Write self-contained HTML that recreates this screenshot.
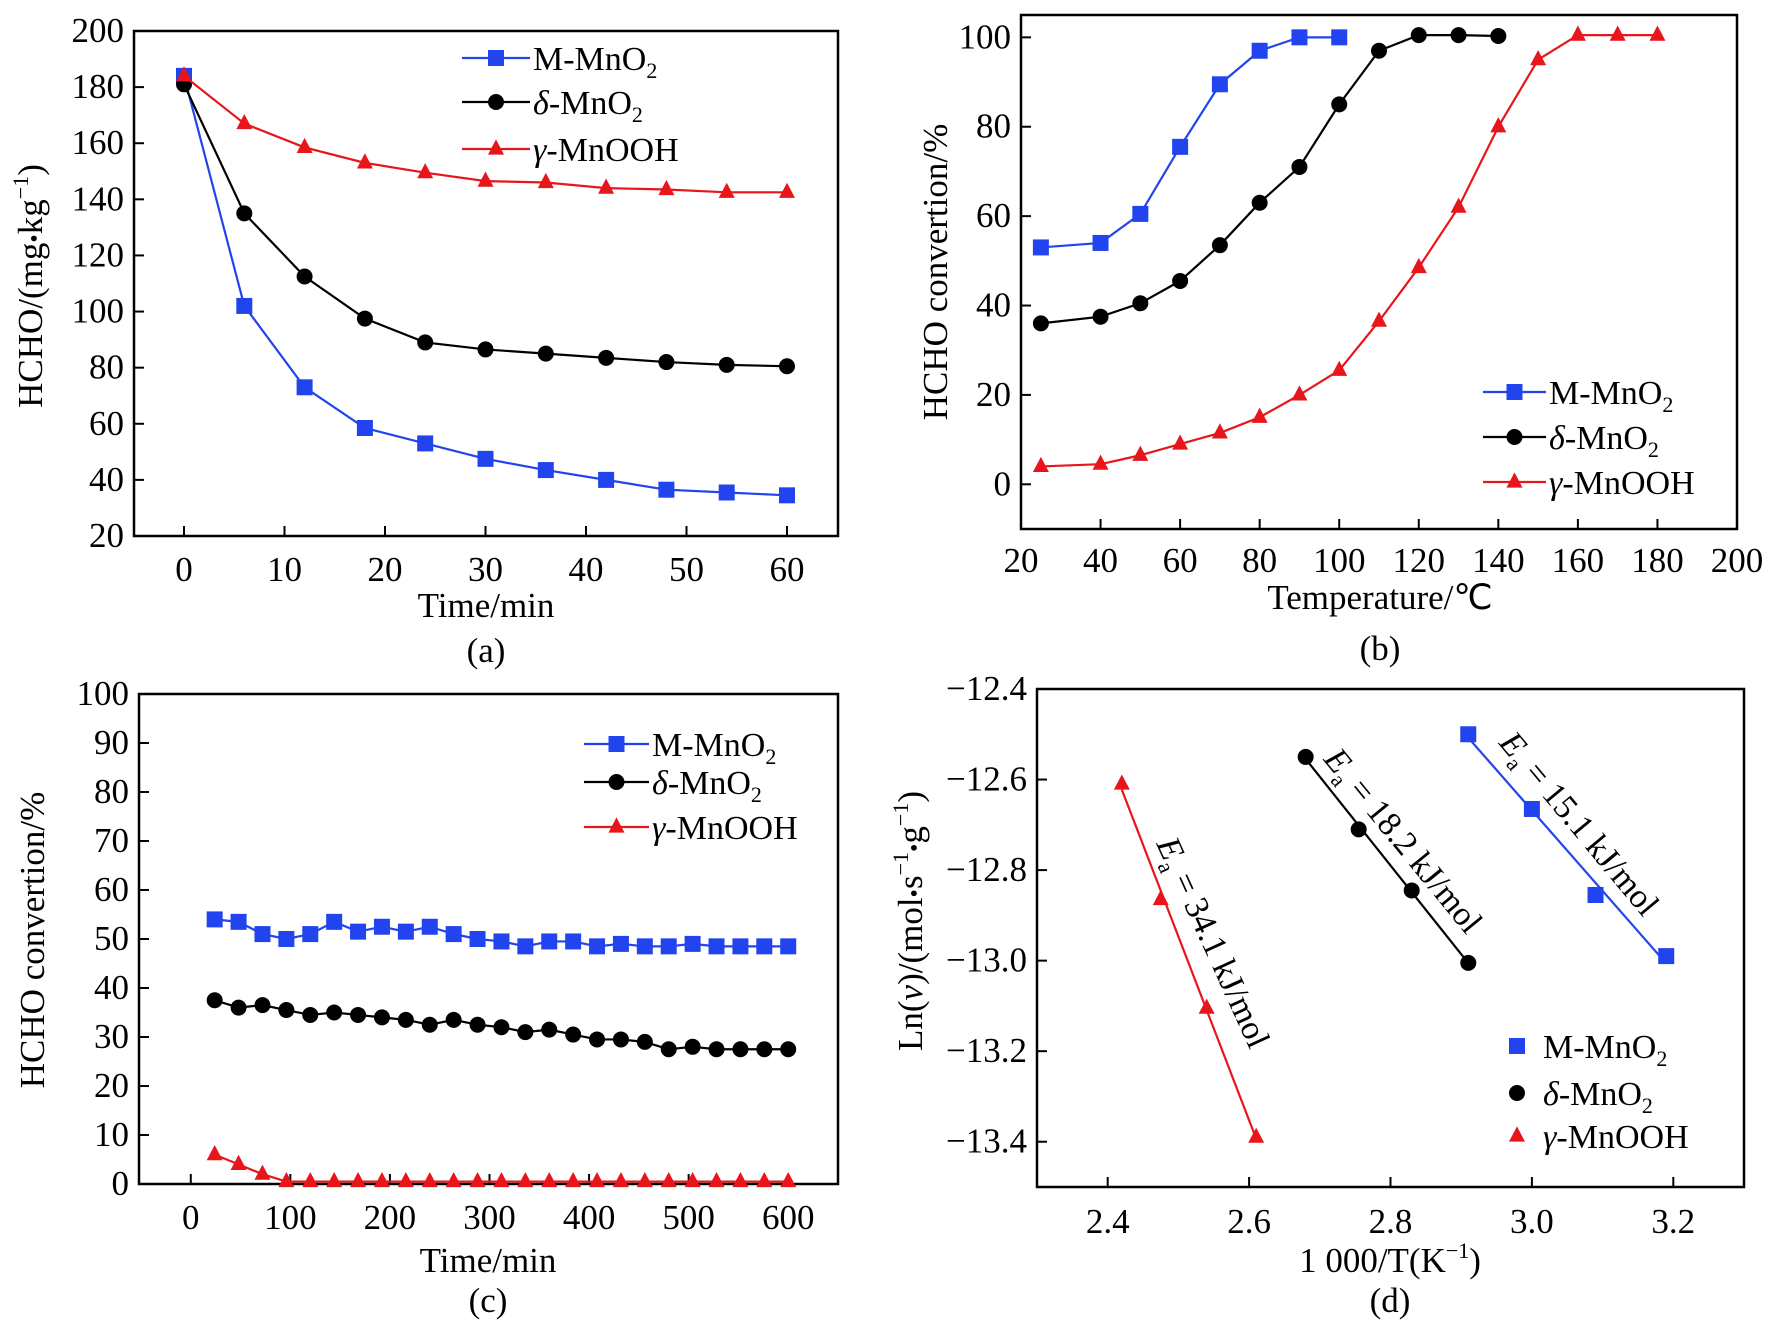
<!DOCTYPE html>
<html><head><meta charset="utf-8"><style>
html,body{margin:0;padding:0;background:#fff;}
svg{display:block;font-family:"Liberation Serif",serif;}
</style></head><body>
<svg id="fig" width="1770" height="1331" viewBox="0 0 1770 1331" xmlns="http://www.w3.org/2000/svg"></svg>
<script>
// Panel (a)
const aTime = [0,6,12,18,24,30,36,42,48,54,60];
const aM = [184,102,73,58.5,53,47.5,43.5,40,36.5,35.5,34.5];
const aD = [181,135,112.5,97.5,89,86.5,85,83.5,82,81,80.5];
const aG = [184,167,158.5,153,149.5,146.5,146,144,143.5,142.5,142.5];
const aXTicks = [0,10,20,30,40,50,60];
const aYTicks = [20,40,60,80,100,120,140,160,180,200];
// Panel (b)
const bTM = [25,40,50,60,70,80,90,100];
const bM = [53,54,60.5,75.5,89.5,97,100,100];
const bTD = [25,40,50,60,70,80,90,100,110,120,130,140];
const bD = [36,37.5,40.5,45.5,53.5,63,71,85,97,100.5,100.5,100.3];
const bTG = [25,40,50,60,70,80,90,100,110,120,130,140,150,160,170,180];
const bG = [4,4.5,6.5,9,11.5,15,20,25.5,36.5,48.5,62,80,95,100.5,100.5,100.5];
const bXTicks = [20,40,60,80,100,120,140,160,180,200];
const bYTicks = [0,20,40,60,80,100];
// Panel (c)
const cTime = [24,48,72,96,120,144,168,192,216,240,264,288,312,336,360,384,408,432,456,480,504,528,552,576,600];
const cM = [54,53.5,51,50,51,53.5,51.5,52.5,51.5,52.5,51,50,49.5,48.5,49.5,49.5,48.5,49,48.5,48.5,49,48.5,48.5,48.5,48.5];
const cD = [37.5,36,36.5,35.5,34.5,35,34.5,34,33.5,32.5,33.5,32.5,32,31,31.5,30.5,29.5,29.5,29,27.5,28,27.5,27.5,27.5,27.5];
const cG = [6,4,2,0.5,0.5,0.5,0.5,0.5,0.5,0.5,0.5,0.5,0.5,0.5,0.5,0.5,0.5,0.5,0.5,0.5,0.5,0.5,0.5,0.5,0.5];
const cXTicks = [0,100,200,300,400,500,600];
const cYTicks = [0,10,20,30,40,50,60,70,80,90,100];
// Panel (d)
const dMx = [2.91,3.00,3.09,3.19];
const dMy = [-12.50,-12.665,-12.855,-12.99];
const dDx = [2.68,2.755,2.83,2.91];
const dDy = [-12.55,-12.71,-12.845,-13.005];
const dGx = [2.42,2.475,2.54,2.61];
const dGy = [-12.61,-12.865,-13.105,-13.39];
const dXTicks = [2.4,2.6,2.8,3.0,3.2];
const dYTicks = [-13.4,-13.2,-13.0,-12.8,-12.6,-12.4];

const NS="http://www.w3.org/2000/svg";
const svg=document.getElementById('fig');
const BLUE="#2244ee", BLACK="#000", RED="#e8151b";
function el(tag,attrs,parent){const e=document.createElementNS(NS,tag);for(const k in attrs)e.setAttribute(k,attrs[k]);(parent||svg).appendChild(e);return e;}

function makePanel(name,box,xr,yr){
  const g=el('g',{});
  
  
  const sx=v=>box.l+(v-xr[0])/(xr[1]-xr[0])*(box.r-box.l);
  const sy=v=>box.b-(v-yr[0])/(yr[1]-yr[0])*(box.b-box.t);
  const frame=el('rect',{x:box.l,y:box.t,width:box.r-box.l,height:box.b-box.t,fill:'none',stroke:'#000','stroke-width':2.5},g);
  
  
  return {g,sx,sy,box};
}
function ticks(p,xt,yt,xfmt,yfmt,xLabY,fs){
  xt.forEach(v=>{
    const x=p.sx(v);
    el('line',{x1:x,x2:x,y1:p.box.b,y2:p.box.b-10,stroke:'#000','stroke-width':2},p.g);
    const t=el('text',{x:x,y:xLabY,'font-size':fs,'text-anchor':'middle'},p.g);
    t.textContent=xfmt(v);
    
    
  });
  yt.forEach(v=>{
    const y=p.sy(v);
    el('line',{x1:p.box.l,x2:p.box.l+10,y1:y,y2:y,stroke:'#000','stroke-width':2},p.g);
    const t=el('text',{x:p.box.l-10,y:y+11,'font-size':fs,'text-anchor':'end'},p.g);
    t.textContent=yfmt(v);
    
    
  });
}
function marker(p,type,x,y,color,s){
  let m;
  if(type==='sq') m=el('rect',{x:x-s,y:y-s,width:2*s,height:2*s,fill:color},p.g);
  else if(type==='ci') m=el('circle',{cx:x,cy:y,r:s,fill:color},p.g);
  else m=el('polygon',{points:`${x},${y-s*1.2} ${x-s},${y+s*0.7} ${x+s},${y+s*0.7}`,fill:color},p.g);
  return m;
}
function series(p,xs,ys,color,type,name,line){
  const sg=el('g',{},p.g);
  
  
  if(line!==false){
    const pts=xs.map((x,i)=>p.sx(x)+','+p.sy(ys[i])).join(' ');
    el('polyline',{points:pts,fill:'none',stroke:color,'stroke-width':2.2},sg);
  }
  xs.forEach((x,i)=>{
    const m=marker({g:sg},type,p.sx(x),p.sy(ys[i]),color,8);
    
    
  });
  return sg;
}
function legendRow(p,x1,x2,tx,y,color,type,label,line){
  const lg=el('g',{},p.g);
  
  
  if(line!==false) el('line',{x1:x1,x2:x2,y1:y,y2:y,stroke:color,'stroke-width':2.2},lg);
  marker({g:lg},type,(x1+x2)/2,y,color,8);
  const t=el('text',{x:tx,y:y+12,'font-size':34},lg);
  t.innerHTML=label;
  return lg;
}
const LM='M-MnO<tspan font-size="22" dy="8">2</tspan>';
const LD='<tspan font-style="italic">δ</tspan>-MnO<tspan font-size="22" dy="8">2</tspan>';
const LG='<tspan font-style="italic">γ</tspan>-MnOOH';
function txt(p,x,y,s,fs,name,extra){
  const t=el('text',Object.assign({x:x,y:y,'font-size':fs,'text-anchor':'middle'},extra||{}),p.g);
  t.innerHTML=s;
  
  
  return t;
}

// ---- (a)
let p=makePanel('panel-a',{l:134,r:838,t:31,b:536},[-(184-134)*60/(787-184),60+(838-787)*60/(787-184)],[20,200]);
ticks(p,aXTicks,aYTicks,v=>v,v=>v,581,35);
series(p,aTime,aM,BLUE,'sq','series-m-mno2');
series(p,aTime,aD,BLACK,'ci','series-delta-mno2');
series(p,aTime,aG,RED,'tr','series-gamma-mnooh');
legendRow(p,462,530,533,58,BLUE,'sq',LM);
legendRow(p,462,530,533,102,BLACK,'ci',LD);
legendRow(p,462,530,533,149,RED,'tr',LG);
txt(p,486,617,'Time/min',35,'x-axis-title');
txt(p,486,662,'(a)',35,'panel-label');
txt(p,0,0,'HCHO/(mg<tspan font-size="24">•</tspan>kg<tspan font-size="22" dy="-14">−1</tspan><tspan dy="14">)</tspan>',35,'y-axis-title',{transform:'translate(42,286) rotate(-90)'});

// ---- (b)
p=makePanel('panel-b',{l:1021,r:1737,t:15,b:529},[20,200],[-10,105]);
ticks(p,bXTicks,bYTicks,v=>v,v=>v,572,35);
series(p,bTM,bM,BLUE,'sq','series-m-mno2');
series(p,bTD,bD,BLACK,'ci','series-delta-mno2');
series(p,bTG,bG,RED,'tr','series-gamma-mnooh');
legendRow(p,1483,1546,1549,392,BLUE,'sq',LM);
legendRow(p,1483,1546,1549,437,BLACK,'ci',LD);
legendRow(p,1483,1546,1549,482,RED,'tr',LG);
txt(p,1380,609,'Temperature/℃',35,'x-axis-title');
txt(p,1380,660,'(b)',35,'panel-label');
txt(p,0,0,'HCHO convertion/%',35,'y-axis-title',{transform:'translate(947,272) rotate(-90)'});

// ---- (c)
p=makePanel('panel-c',{l:139,r:838,t:694,b:1184},[-52,650],[0,100]);
ticks(p,cXTicks,cYTicks,v=>v,v=>v,1229,35);
series(p,cTime,cM,BLUE,'sq','series-m-mno2');
series(p,cTime,cD,BLACK,'ci','series-delta-mno2');
series(p,cTime,cG,RED,'tr','series-gamma-mnooh');
legendRow(p,584,649,652,744,BLUE,'sq',LM);
legendRow(p,584,649,652,782,BLACK,'ci',LD);
legendRow(p,584,649,652,827,RED,'tr',LG);
txt(p,488,1272,'Time/min',35,'x-axis-title');
txt(p,488,1312,'(c)',35,'panel-label');
txt(p,0,0,'HCHO convertion/%',35,'y-axis-title',{transform:'translate(44,940) rotate(-90)'});

// ---- (d)
p=makePanel('panel-d',{l:1037,r:1744,t:689,b:1187},[2.3,3.3],[-13.5,-12.4]);
ticks(p,dXTicks,dYTicks,v=>v.toFixed(1),v=>'−'+Math.abs(v).toFixed(1),1233,35);
function fitLine(p,xs,ys,color,name){
  const n=xs.length,mx=xs.reduce((a,b)=>a+b)/n,my=ys.reduce((a,b)=>a+b)/n;
  let sxy=0,sxx=0;xs.forEach((x,i)=>{sxy+=(x-mx)*(ys[i]-my);sxx+=(x-mx)*(x-mx);});
  const k=sxy/sxx,b0=my-k*mx;
  const l=el('line',{x1:p.sx(xs[0]),y1:p.sy(k*xs[0]+b0),x2:p.sx(xs[n-1]),y2:p.sy(k*xs[n-1]+b0),stroke:color,'stroke-width':2.2},p.g);
  
  
}
fitLine(p,dMx,dMy,BLUE,'fit-line-m-mno2');
fitLine(p,dDx,dDy,BLACK,'fit-line-delta-mno2');
fitLine(p,dGx,dGy,RED,'fit-line-gamma-mnooh');
series(p,dMx,dMy,BLUE,'sq','series-m-mno2',false);
series(p,dDx,dDy,BLACK,'ci','series-delta-mno2',false);
series(p,dGx,dGy,RED,'tr','series-gamma-mnooh',false);
legendRow(p,1517,1517,1543,1046,BLUE,'sq',LM,false);
legendRow(p,1517,1517,1543,1093,BLACK,'ci',LD,false);
legendRow(p,1517,1517,1543,1136,RED,'tr',LG,false);
const EA=v=>'<tspan font-style="italic">E</tspan><tspan font-size="22" dy="8">a</tspan><tspan dy="-8"> = '+v+' kJ/mol</tspan>';
txt(p,0,12,EA('34.1'),34,'activation-energy-gamma',{transform:'translate(1214,942) rotate(65.5)'});
txt(p,0,12,EA('18.2'),34,'activation-energy-delta',{transform:'translate(1404,840) rotate(50.7)'});
txt(p,0,12,EA('15.1'),34,'activation-energy-m',{transform:'translate(1580,823) rotate(50.2)'});
txt(p,1390,1272,'1 000/T(K<tspan font-size="22" dy="-14">−1</tspan><tspan dy="14">)</tspan>',35,'x-axis-title');
txt(p,1390,1312,'(d)',35,'panel-label');
txt(p,0,0,'Ln(<tspan font-style="italic">v</tspan>)/(mol<tspan font-size="24">•</tspan>s<tspan font-size="22" dy="-14">−1</tspan><tspan dy="14" font-size="24">•</tspan>g<tspan font-size="22" dy="-14">−1</tspan><tspan dy="14">)</tspan>',35,'y-axis-title',{transform:'translate(922,921) rotate(-90)'});
</script>
</body></html>
